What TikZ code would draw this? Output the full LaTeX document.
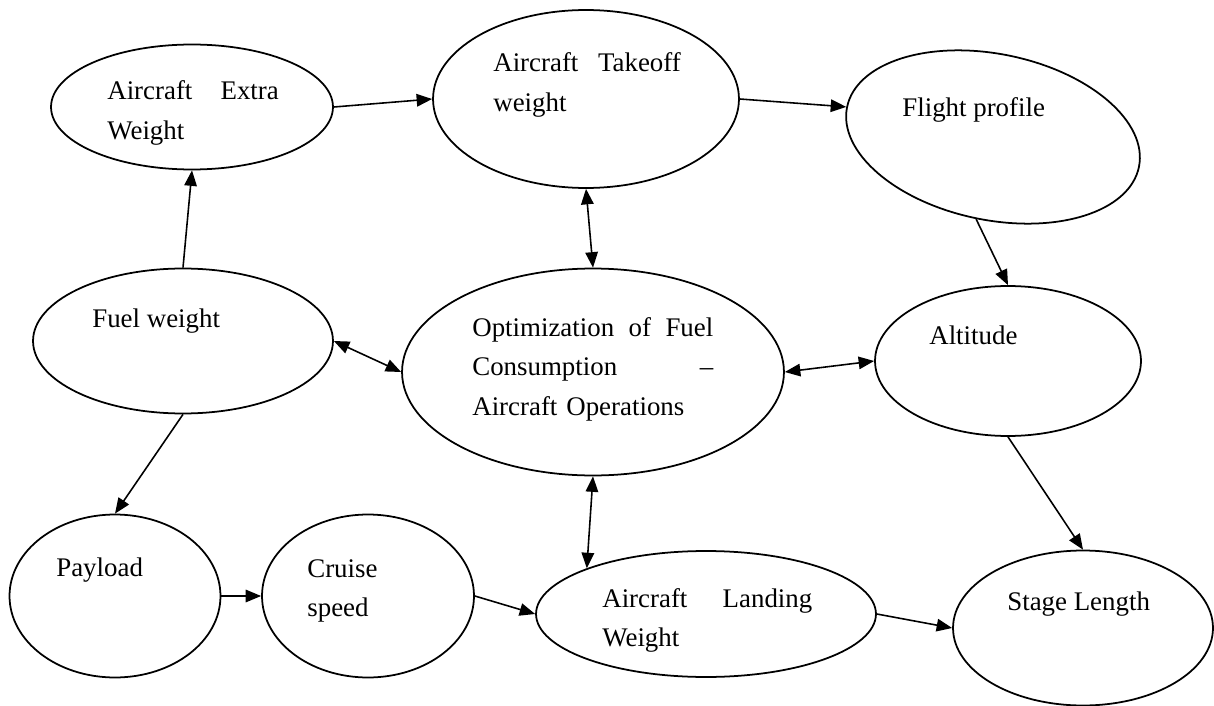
\documentclass[tikz,border=0pt]{standalone}
\usepackage{fontspec}
\setmainfont{Liberation Serif}
\usetikzlibrary{shapes.geometric}
\usetikzlibrary{arrows.meta}

\begin{document}
\begin{tikzpicture}[x=0.02cm,y=-0.02cm,
		oval/.style={ellipse,draw=black,line width=1pt,inner sep=0pt},
		txt/.style={inner sep=0pt,anchor=base west,align=left,font=\fontsize{15.3pt}{22.6pt}\selectfont},
		arr/.style={line width=0.9pt,-{Triangle[length=3.1mm,width=2.5mm]}},
		darr/.style={line width=0.9pt,{Triangle[length=3.1mm,width=2.5mm]}-{Triangle[length=3.1mm,width=2.5mm]}}]
		\useasboundingbox (0,0) rectangle (1214,706);
		\node[oval,minimum width=5.64cm,minimum height=2.5cm] (extra) at (192,107) {};
		\node[oval,minimum width=6.12cm,minimum height=3.56cm] (takeoff) at (586,99) {};
		\node[oval,minimum width=5.96cm,minimum height=3.32cm,rotate=-11.6] (flight) at (993,137) {};
		\node[oval,minimum width=6cm,minimum height=2.9cm] (fuel) at (183,341) {};
		\node[oval,minimum width=7.64cm,minimum height=4.14cm] (opt) at (593,372) {};
		\node[oval,minimum width=5.32cm,minimum height=3cm] (alt) at (1008,361) {};
		\node[oval,minimum width=4.22cm,minimum height=3.26cm] (payload) at (115,596) {};
		\node[oval,minimum width=4.24cm,minimum height=3.26cm] (cruise) at (368,596) {};
		\node[oval,minimum width=6.8cm,minimum height=2.52cm] (landing) at (706,614) {};
		\node[oval,minimum width=5.2cm,minimum height=3.1cm] (stage) at (1083,628) {};
		% texts sit left of centre, as in the original
		\node[txt,text width=3.43cm] (extrat) at (107,100) {Aircraft\hfill Extra\\Weight};
		\node[txt,text width=3.75cm] (takeofft) at (493,72) {Aircraft\hfill Takeoff\\weight};
		\node[txt] (flightt) at (902,116) {Flight profile};
		\node[txt] (fuelt) at (92,327) {Fuel weight};
		\node[txt,text width=4.82cm] (optt) at (472,336) {Optimization\hfill of\hfill Fuel\\Consumption\hfill --\\Aircraft Operations};
		\node[txt] (altt) at (929,344) {Altitude};
		\node[txt] (payloadt) at (56,576) {Payload};
		\node[txt,text width=2cm] (cruiset) at (307,577) {Cruise\\speed};
		\node[txt,text width=4.2cm] (landingt) at (602,607) {Aircraft\hfill Landing\\Weight};
		\node[txt] (staget) at (1007,610) {Stage Length};
		\draw[arr] (extra.east) -- (takeoff.west);
		\draw[arr] (takeoff.east) -- (flight.west);
		\draw[arr] (fuel.north) -- (extra.south);
		\draw[darr] (takeoff.south) -- (opt.north);
		\draw[arr] (flight.south) -- (alt.north);
		\draw[darr] (fuel.east) -- (opt.west);
		\draw[darr] (opt.east) -- (alt.west);
		\draw[arr] (fuel.south) -- (payload.north);
		\draw[darr] (opt.south) -- (landing.159);
		\draw[arr] (payload.east) -- (cruise.west);
		\draw[arr] (cruise.east) -- (landing.west);
		\draw[arr] (landing.east) -- (stage.west);
		\draw[arr] (alt.south) -- (stage.north);
	\end{tikzpicture}
\end{document}
